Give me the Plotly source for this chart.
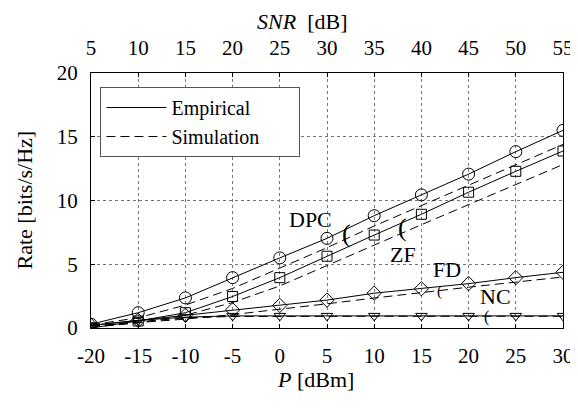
import plotly.graph_objects as go

P_dBm = [-20, -15, -10, -5, 0, 5, 10, 15, 20, 25, 30]
SNR_ticks = [5, 10, 15, 20, 25, 30, 35, 40, 45, 50, 55]

dpc_emp = [0.3, 1.2, 2.36, 3.95, 5.5, 7.03, 8.81, 10.44, 12.07, 13.83, 15.5]
dpc_sim = [0.25, 0.8, 1.8, 3.1, 4.7, 6.3, 8.0, 9.6, 11.2, 12.8, 14.4]
zf_emp = [0.0, 0.55, 1.2, 2.47, 3.95, 5.63, 7.29, 8.92, 10.65, 12.29, 13.88]
zf_sim = [0.05, 0.4, 1.0, 2.0, 3.3, 4.93, 6.5, 8.1, 9.7, 11.25, 12.82]
fd_emp = [0.2, 0.6, 1.0, 1.42, 1.77, 2.19, 2.73, 3.08, 3.48, 3.95, 4.37]
fd_sim = [0.15, 0.4, 0.7, 1.05, 1.45, 1.9, 2.35, 2.8, 3.2, 3.6, 4.0]
nc_emp = [0.2, 0.6, 0.85, 0.95, 0.95, 0.95, 0.95, 0.95, 0.95, 0.95, 0.95]
nc_sim = [0.15, 0.5, 0.8, 0.9, 0.92, 0.92, 0.92, 0.92, 0.92, 0.92, 0.92]

FONT = "Liberation Serif"
FS = 22
TFS = 21
LFS = 20
DASH = "9px,5px"

fig = go.Figure()

series = [
    (dpc_emp, dpc_sim, "circle-open", 12),
    (zf_emp, zf_sim, "square-open", 10),
    (fd_emp, fd_sim, "diamond-open", 11),
    (nc_emp, nc_sim, "triangle-down-open", 10),
]
for emp, sim, sym, sz in series:
    fig.add_trace(go.Scatter(x=P_dBm, y=sim, mode="lines", showlegend=False,
                             line=dict(color="black", width=1, dash=DASH)))
    fig.add_trace(go.Scatter(x=P_dBm, y=emp, mode="lines+markers", showlegend=False,
                             line=dict(color="black", width=1),
                             marker=dict(symbol=sym, size=sz, color="black",
                                         line=dict(width=1, color="black"))))

NB = "\u00a0"
fig.add_trace(go.Scatter(x=[None], y=[None], mode="lines", name="Empirical" + NB * 7,
                         line=dict(color="black", width=1)))
fig.add_trace(go.Scatter(x=[None], y=[None], mode="lines", name="Simulation" + NB * 7,
                         line=dict(color="black", width=1, dash=DASH)))
# invisible trace to anchor top axis
fig.add_trace(go.Scatter(x=[SNR_ticks[0], SNR_ticks[-1]], y=[None, None], xaxis="x2",
                         mode="lines", showlegend=False, hoverinfo="skip"))

axis_common = dict(showline=True, linecolor="black", linewidth=1, ticks="inside",
                   ticklen=4, tickcolor="black", tickfont=dict(family=FONT, size=TFS, color="black"),
                   zeroline=False, ticklabeloverflow="allow")

fig.update_layout(
    width=578, height=420,
    margin=dict(l=83, r=13, t=65, b=100),
    paper_bgcolor="white", plot_bgcolor="white",
    font=dict(family=FONT, size=FS, color="black"),
    xaxis=dict(range=[-20, 30], tickmode="array", tickvals=P_dBm,
               ticktext=[str(v) for v in P_dBm], showgrid=True, gridcolor="#777",
               griddash="dot", gridwidth=1, mirror=True, ticklabelstandoff=9, **axis_common),
    xaxis2=dict(range=[5, 55], overlaying="x", side="top", tickmode="array",
                tickvals=SNR_ticks, ticktext=[str(v) for v in SNR_ticks], showgrid=False,
                ticklabelstandoff=9, **axis_common),
    yaxis=dict(range=[0, 20], tickmode="array", tickvals=[0, 5, 10, 15, 20],
               showgrid=True, gridcolor="#777", griddash="dot", gridwidth=1, mirror=True,
               ticklabelstandoff=8, **axis_common),
    legend=dict(x=0.02, y=0.945, xanchor="left", yanchor="top", bgcolor="white",
                bordercolor="#555", borderwidth=1, font=dict(family=FONT, size=LFS),
                tracegroupgap=0, itemwidth=60),
    showlegend=True,
)

annos = [
    dict(x=3.3, y=8.5, text="DPC", size=FS),
    dict(x=13.0, y=5.8, text="ZF", size=FS),
    dict(x=17.7, y=4.55, text="FD", size=FS),
    dict(x=22.9, y=2.45, text="NC", size=FS),
    dict(x=7.1, y=7.45, text="(", size=26),
    dict(x=13.0, y=7.85, text="(", size=26),
    dict(x=16.9, y=2.9, text="(", size=15),
    dict(x=21.9, y=0.85, text="(", size=16),
]
for a in annos:
    fig.add_annotation(x=a["x"], y=a["y"], xref="x", yref="y", text=a["text"], showarrow=False,
                       font=dict(family=FONT, size=a["size"], color="black"))

fig.add_annotation(x=0.5, y=1, xref="paper", yref="paper", yanchor="middle", xanchor="center",
                   yshift=52, xshift=-25, text="<i>SNR</i>  [dB]", showarrow=False,
                   font=dict(family=FONT, size=FS, color="black"))
fig.add_annotation(x=0.5, y=0, xref="paper", yref="paper", yanchor="middle", xanchor="center",
                   yshift=-51, xshift=-12, text="<i>P</i> [dBm]", showarrow=False,
                   font=dict(family=FONT, size=FS, color="black"))
fig.add_annotation(x=0, y=0.5, xref="paper", yref="paper", xanchor="center", yanchor="middle",
                   xshift=-67, text="Rate [bits/s/Hz]", textangle=-90, showarrow=False,
                   font=dict(family=FONT, size=FS, color="black"))

fig.write_html("out.html")
